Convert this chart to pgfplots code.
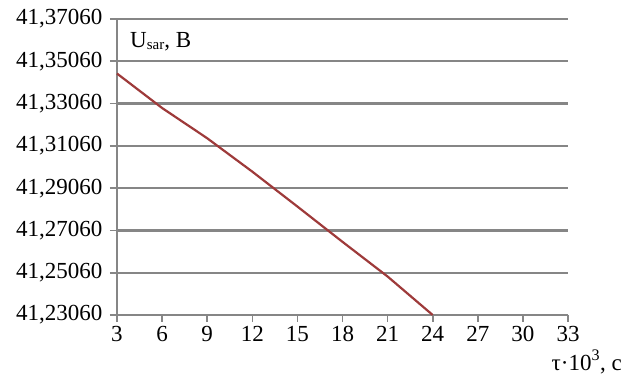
\documentclass[border=0pt]{standalone}
\usepackage{fontspec}
\setmainfont{Liberation Serif}
\usepackage{pgfplots}
\pgfplotsset{compat=1.18}
\definecolor{gridgray}{RGB}{134,134,134}
\definecolor{linered}{RGB}{158,58,58}
\begin{document}
\begin{tikzpicture}
\begin{axis}[
  scale only axis,
  width=451pt, height=296pt,
  xmin=3, xmax=33, ymin=41.2306, ymax=41.3706,
  xtick={3,6,...,33},
  ytick={41.2306,41.2506,41.2706,41.2906,41.3106,41.3306,41.3506,41.3706},
  yticklabels={{41,23060},{41,25060},{41,27060},{41,29060},{41,31060},{41,33060},{41,35060},{41,37060}},
  /pgf/number format/assume math mode=true,
  ymajorgrids,
  major grid style={gridgray, line width=2.2pt},
  axis line style={gridgray, line width=2.2pt},
  axis x line*=bottom, axis y line*=left,
  tick style={gridgray, line width=1.6pt},
  tick align=outside,
  major tick length=7pt,
  tick label style={font=\fontsize{23}{27}\selectfont, text=black},
  yticklabel style={xshift=-4pt},
  xticklabel style={yshift=-1pt},
  clip=false,
]
\addplot[linered, line width=2.2pt] coordinates {
  (3,41.3448) (6,41.3285) (9,41.3142) (12,41.2984)
  (15,41.2819) (18,41.2652) (21,41.2488) (24,41.2306)
};
\node[anchor=base west, inner sep=0pt, font=\fontsize{23}{27}\selectfont]
  at ([xshift=13pt,yshift=-29pt]rel axis cs:0,1)
  {U\raisebox{-1.5pt}{\fontsize{15}{15}\selectfont sar}, B};
\node[anchor=base east, inner sep=0pt, font=\fontsize{23}{27}\selectfont]
  at ([xshift=54pt,yshift=-55pt]rel axis cs:1,0)
  {τ·10\textsuperscript{3}, c};
\end{axis}
\pgfresetboundingbox
\path[use as bounding box] ([xshift=-117pt,yshift=-59pt]current axis.south west) rectangle ([xshift=57pt,yshift=19pt]current axis.north east);
\end{tikzpicture}
\end{document}
